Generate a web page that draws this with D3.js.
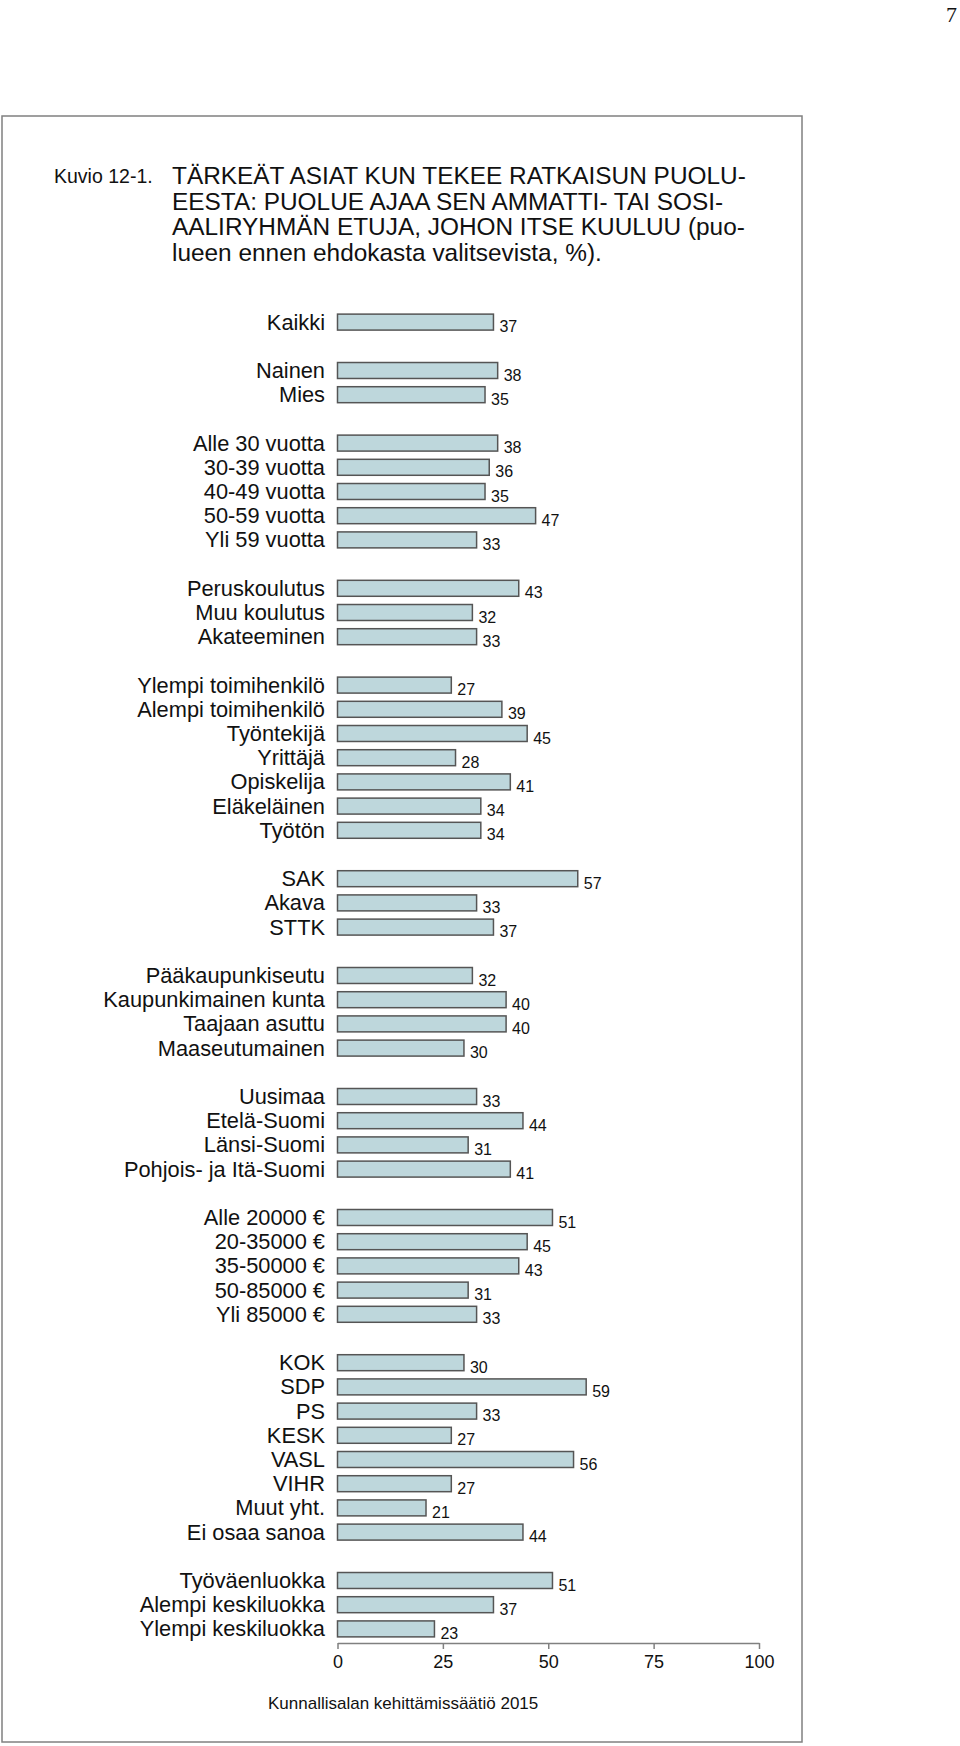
<!DOCTYPE html>
<html>
<head>
<meta charset="utf-8">
<script src="https://cdn.jsdelivr.net/npm/d3@7"></script>
<style>
  body { margin: 0; background: #fff; }
  text { font-family: "Liberation Sans", Arial, sans-serif; fill: #111; }
</style>
</head>
<body>
<div id="chart"></div>
<script>
// categories in drawing order, '' marks an empty spacer row between groups
var categories = [
    'Kaikki', '',
    'Nainen', 'Mies', '',
    'Alle 30 vuotta', '30-39 vuotta', '40-49 vuotta', '50-59 vuotta', 'Yli 59 vuotta', '',
    'Peruskoulutus', 'Muu koulutus', 'Akateeminen', '',
    'Ylempi toimihenkilö', 'Alempi toimihenkilö', 'Työntekijä', 'Yrittäjä', 'Opiskelija', 'Eläkeläinen', 'Työtön', '',
    'SAK', 'Akava', 'STTK', '',
    'Pääkaupunkiseutu', 'Kaupunkimainen kunta', 'Taajaan asuttu', 'Maaseutumainen', '',
    'Uusimaa', 'Etelä-Suomi', 'Länsi-Suomi', 'Pohjois- ja Itä-Suomi', '',
    'Alle 20000 €', '20-35000 €', '35-50000 €', '50-85000 €', 'Yli 85000 €', '',
    'KOK', 'SDP', 'PS', 'KESK', 'VASL', 'VIHR', 'Muut yht.', 'Ei osaa sanoa', '',
    'Työväenluokka', 'Alempi keskiluokka', 'Ylempi keskiluokka'
];
// percentages, null for spacer rows
var values = [
    37, null,
    38, 35, null,
    38, 36, 35, 47, 33, null,
    43, 32, 33, null,
    27, 39, 45, 28, 41, 34, 34, null,
    57, 33, 37, null,
    32, 40, 40, 30, null,
    33, 44, 31, 41, null,
    51, 45, 43, 31, 33, null,
    30, 59, 33, 27, 56, 27, 21, 44, null,
    51, 37, 23
];
var xTicks = [0, 25, 50, 75, 100];

var titleLines = [
    'TÄRKEÄT ASIAT KUN TEKEE RATKAISUN PUOLU-',
    'EESTA: PUOLUE AJAA SEN AMMATTI- TAI SOSI-',
    'AALIRYHMÄN ETUJA, JOHON ITSE KUULUU (puo-',
    'lueen ennen ehdokasta valitsevista, %).'
];

var svgWidth = 960;
var svgHeight = 1746;

var svg = d3.select('#chart').append('svg')
    .attr('width', svgWidth)
    .attr('height', svgHeight);

// page number
svg.append('text')
    .attr('x', 957)
    .attr('y', 22)
    .attr('text-anchor', 'end')
    .style('font-family', '"Liberation Serif", "Times New Roman", serif')
    .style('font-size', '22px')
    .text('7');

// frame
svg.append('rect')
    .attr('x', 2)
    .attr('y', 116)
    .attr('width', 800)
    .attr('height', 1626)
    .attr('fill', 'none')
    .attr('stroke', '#808080')
    .attr('stroke-width', 1.5);

svg.append('text')
    .attr('x', 54)
    .attr('y', 183)
    .style('font-size', '19.5px')
    .text('Kuvio 12-1.');

svg.selectAll('.title')
    .data(titleLines)
    .enter()
    .append('text')
    .classed('title', true)
    .attr('x', 172)
    .attr('y', (d, i) => 184 + i * 25.5)
    .style('font-size', '24.4px')
    .text(d => d);

var rows = categories.map((c, i) => ({cat: c, key: i, value: values[i]}));

var xScale = d3.scaleLinear()
    .domain([0, 100])
    .range([337.5, 759]);

var yScale = d3.scaleBand()
    .domain(rows.map(d => d.key))
    .range([310, 1641])
    .paddingInner(0.34)
    .paddingOuter(0.17);

var bars = rows.filter(d => d.value !== null);

svg.selectAll('.bar')
    .data(bars)
    .enter()
    .append('rect')
    .classed('bar', true)
    .attr('x', xScale(0))
    .attr('y', d => yScale(d.key))
    .attr('width', d => xScale(d.value) - xScale(0))
    .attr('height', yScale.bandwidth())
    .attr('fill', '#bed7dc')
    .attr('stroke', '#555')
    .attr('stroke-width', 1.5);

svg.selectAll('.cat')
    .data(bars)
    .enter()
    .append('text')
    .classed('cat', true)
    .attr('x', 325)
    .attr('y', d => yScale(d.key) + yScale.bandwidth() / 2 + 7.5)
    .attr('text-anchor', 'end')
    .style('font-size', '21.8px')
    .text(d => d.cat);

svg.selectAll('.val')
    .data(bars)
    .enter()
    .append('text')
    .classed('val', true)
    .attr('x', d => xScale(d.value) + 6)
    .attr('y', d => yScale(d.key) + yScale.bandwidth() / 2 + 10)
    .style('font-size', '16px')
    .text(d => d.value);

// x axis
var xAxis = svg.append('g')
    .attr('transform', 'translate(0, 1643)')
    .call(d3.axisBottom(xScale).tickValues(xTicks).tickSize(6).tickSizeOuter(0));
xAxis.selectAll('path, line').attr('stroke', '#808080').attr('stroke-width', 1.5);
xAxis.selectAll('text')
    .attr('y', 25)
    .attr('dy', 0)
    .style('font-family', '"Liberation Sans", Arial, sans-serif')
    .style('font-size', '18px')
    .attr('fill', '#111');

svg.append('text')
    .attr('x', 268)
    .attr('y', 1709)
    .style('font-size', '17px')
    .text('Kunnallisalan kehittämissäätiö 2015');
</script>
</body>
</html>
